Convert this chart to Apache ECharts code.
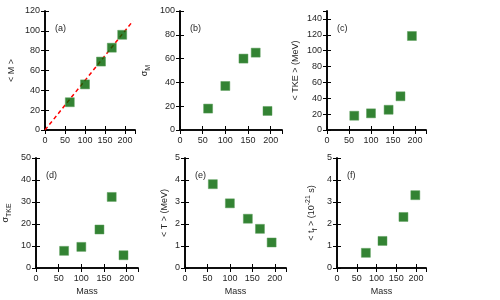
<!DOCTYPE html>
<html>
<head>
<meta charset="utf-8">
<script src="https://cdn.jsdelivr.net/npm/echarts@6/dist/echarts.min.js"></script>
<style>html,body{margin:0;padding:0;background:#fff}#c{width:500px;height:300px}</style>
</head>
<body>
<div id="c"></div>
<script>
// ---- data ----
const mass = [62, 100, 140, 167, 193];
const meanM = [28, 46, 69, 83, 96];
const sigmaM = [18, 37, 60, 65, 16];
const meanTKE = [18, 21, 25.5, 42.5, 118.5];
const sigmaTKE = [7.8, 9.6, 17.5, 32.3, 5.8];
const meanT = [3.81, 2.94, 2.24, 1.78, 1.16];
const massF = [73, 115, 168, 198];
const meanTf = [0.69, 1.23, 2.32, 3.31];
const lineX = [0, 220];
const lineY = [0, 110];
const panelLabels = ['(a)', '(b)', '(c)', '(d)', '(e)', '(f)'];
const yMax = [120, 100, 150, 50, 5, 5];
const yStep = [20, 20, 20, 10, 1, 1];
const xMax = 225, xStep = 50;

const FONT = 'Liberation Sans, Arial, sans-serif';
const TXT = '#262626';
const grids = [
  {left: 45, top: 11, width: 90, height: 119},
  {left: 180, top: 11, width: 102, height: 119},
  {left: 327, top: 11, width: 99, height: 119},
  {left: 36, top: 158, width: 102, height: 110},
  {left: 185, top: 158, width: 101, height: 110},
  {left: 337, top: 158, width: 89, height: 110}
];
const yNames = [
  '< M >',
  '{m|σ}{s|M}',
  '< TKE > (MeV)',
  '{m|σ}{s|TKE}',
  '< T > (MeV)',
  '{m|< t}{s|f}{m| > (10}{p|-21}{m| s)}'
];
const yGaps = [29, 28, 27, 23, 16, 18];
const rich = {
  m: {fontSize: 9, fontFamily: FONT, color: TXT, lineHeight: 14},
  s: {fontSize: 7, fontFamily: FONT, color: TXT, verticalAlign: 'bottom', lineHeight: 14},
  p: {fontSize: 7, fontFamily: FONT, color: TXT, verticalAlign: 'top', lineHeight: 14}
};
const axLine = {show: true, lineStyle: {color: '#000', width: 1.6}};
const axTick = {show: true, inside: true, length: 4, lineStyle: {color: '#000', width: 1}};

const xAxis = [], yAxis = [], series = [], graphic = [];
grids.forEach((g, i) => {
  xAxis.push({
    type: 'value', gridIndex: i, position: 'bottom', min: 0, max: xMax, interval: xStep,
    axisLine: axLine, axisTick: axTick, splitLine: {show: false},
    axisLabel: {fontSize: 9, fontFamily: FONT, color: TXT, margin: 6, showMaxLabel: false},
    name: i >= 3 ? 'Mass' : '', nameLocation: 'middle', nameGap: 19,
    nameTextStyle: {fontSize: 9, fontFamily: FONT, color: TXT}
  });
  xAxis.push({
    type: 'value', gridIndex: i, position: 'top', min: 0, max: xMax, interval: xStep,
    axisLine: axLine, axisTick: axTick, splitLine: {show: false}, axisLabel: {show: false}
  });
  yAxis.push({
    type: 'value', gridIndex: i, position: 'left', min: 0, max: yMax[i], interval: yStep[i],
    axisLine: axLine, axisTick: axTick, splitLine: {show: false},
    axisLabel: {fontSize: 9, fontFamily: FONT, color: TXT, margin: 5, showMaxLabel: yMax[i] % yStep[i] === 0},
    name: yNames[i], nameLocation: 'middle', nameGap: yGaps[i], nameRotate: 90,
    nameTextStyle: {fontSize: 9, fontFamily: FONT, color: TXT, rich: rich}
  });
  yAxis.push({
    type: 'value', gridIndex: i, position: 'right', min: 0, max: yMax[i], interval: yStep[i],
    axisLine: axLine, axisTick: axTick, splitLine: {show: false}, axisLabel: {show: false}
  });
  graphic.push({
    type: 'text', left: g.left + 10, top: g.top + 13,
    style: {text: panelLabels[i], font: '9px ' + FONT, fill: TXT}
  });
});

const ys = [meanM, sigmaM, meanTKE, sigmaTKE, meanT, meanTf];
const sq = {type: 'scatter', symbol: 'rect', symbolSize: 9,
  itemStyle: {color: '#006400', borderColor: '#5a9e5a', borderWidth: 0.6}, z: 3};

series.push({
  type: 'line', xAxisIndex: 0, yAxisIndex: 0, showSymbol: false, symbol: 'none', silent: true,
  data: lineX.map((x, k) => [x, lineY[k]]),
  lineStyle: {color: '#ff0000', width: 1.5, type: [4, 3]}, z: 2
});
ys.forEach((arr, i) => {
  const xs = i === 5 ? massF : mass;
  series.push(Object.assign({}, sq, {
    xAxisIndex: 2 * i, yAxisIndex: 2 * i,
    data: arr.map((v, k) => [xs[k], v])
  }));
});

const chart = echarts.init(document.getElementById('c'), null, {renderer: 'canvas'});
chart.setOption({
  animation: false,
  backgroundColor: '#fff',
  grid: grids.map(g => Object.assign({containLabel: false}, g)),
  xAxis, yAxis, series, graphic
});
</script>
</body>
</html>
